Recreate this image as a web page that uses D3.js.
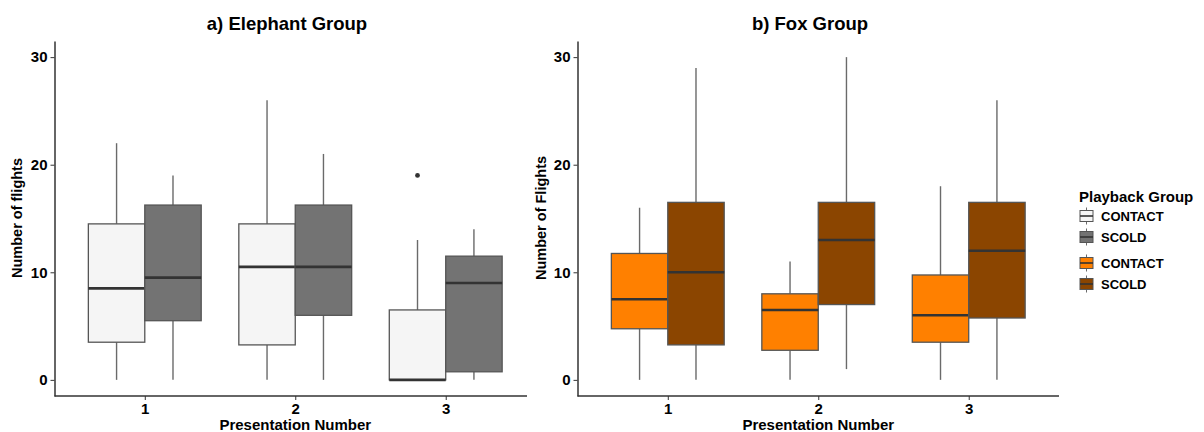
<!DOCTYPE html>
<html>
<head>
<meta charset="utf-8">
<script src="https://cdn.jsdelivr.net/npm/d3@7"></script>
<style>
  body { margin: 0; background: #fff; }
  text { font-family: "Liberation Sans", Arial, Helvetica, sans-serif; font-weight: bold; fill: #000; }
</style>
</head>
<body>
<div class="canvas"></div>
<script>
// data: [lower whisker, q1, median, q3, upper whisker]
const presentations = ['1', '2', '3'];
const playback = ['CONTACT', 'SCOLD'];
const yTicks = [0, 10, 20, 30];

const elephantContact = [[0, 3.5, 8.5, 14.5, 22], [0, 3.25, 10.5, 14.5, 26], [0, 0, 0, 6.5, 13]];
const elephantScold = [[0, 5.5, 9.5, 16.25, 19], [0, 6, 10.5, 16.25, 21], [0, 0.75, 9, 11.5, 14]];
const elephantOutliers = [{ pres: '3', group: 'CONTACT', value: 19 }];

const foxContact = [[0, 4.75, 7.5, 11.75, 16], [0, 2.75, 6.5, 8, 11], [0, 3.5, 6, 9.75, 18]];
const foxScold = [[0, 3.25, 10, 16.5, 29], [1, 7, 13, 16.5, 30], [0, 5.75, 12, 16.5, 26]];
const foxOutliers = [];

const elephantColors = ['#f5f5f5', '#737373'];
const foxColors = ['#ff8000', '#8b4500'];

const svg = d3.select('.canvas').append('svg')
    .attr('width', 1204)
    .attr('height', 432);

const y = d3.scaleLinear().domain([-1.5, 31.5]).range([396, 41]);

function toRows(contact, scold) {
    const rows = [];
    presentations.forEach((p, i) => {
        rows.push({ pres: p, group: 'CONTACT', s: contact[i] });
        rows.push({ pres: p, group: 'SCOLD', s: scold[i] });
    });
    return rows;
}

function drawPanel(opt) {
    const x = d3.scalePoint().domain(presentations).range(opt.xRange).padding(0.6);
    const step = x.step();
    const xg = d3.scaleBand().domain(playback).range([-0.375 * step, 0.375 * step]);
    const color = d3.scaleOrdinal().domain(playback).range(opt.colors);
    const rows = toRows(opt.contact, opt.scold);
    const g = svg.append('g');

    const box = g.selectAll('g.box').data(rows).join('g')
        .attr('class', 'box')
        .attr('transform', d => `translate(${x(d.pres) + xg(d.group) + xg.bandwidth() / 2},0)`);

    // whiskers
    box.append('line')
        .attr('x1', 0).attr('x2', 0)
        .attr('y1', d => y(d.s[0])).attr('y2', d => y(d.s[1]))
        .attr('stroke', '#6a6a6a').attr('stroke-width', 1.4);
    box.append('line')
        .attr('x1', 0).attr('x2', 0)
        .attr('y1', d => y(d.s[3])).attr('y2', d => y(d.s[4]))
        .attr('stroke', '#6a6a6a').attr('stroke-width', 1.4);

    box.append('rect')
        .attr('x', -xg.bandwidth() / 2)
        .attr('width', xg.bandwidth())
        .attr('y', d => y(d.s[3]))
        .attr('height', d => y(d.s[1]) - y(d.s[3]))
        .attr('fill', d => color(d.group))
        .attr('stroke', '#555').attr('stroke-width', 1.3);

    box.append('line')
        .attr('x1', -xg.bandwidth() / 2).attr('x2', xg.bandwidth() / 2)
        .attr('y1', d => y(d.s[2])).attr('y2', d => y(d.s[2]))
        .attr('stroke', '#333').attr('stroke-width', 2.6);

    g.selectAll('circle.out').data(opt.outliers).join('circle')
        .attr('cx', d => x(d.pres) + xg(d.group) + xg.bandwidth() / 2)
        .attr('cy', d => y(d.value))
        .attr('r', 2.4)
        .attr('fill', '#333');

    // axes
    const yAxis = g.append('g')
        .attr('transform', `translate(${opt.xRange[0]},0)`)
        .call(d3.axisLeft(y).tickValues(yTicks).tickSize(4).tickSizeOuter(0).tickPadding(3));
    yAxis.selectAll('text').style('font-size', '15px').attr('fill', '#000');

    const xAxis = g.append('g')
        .attr('transform', `translate(0,${y.range()[0]})`)
        .call(d3.axisBottom(x).tickSize(4).tickSizeOuter(0).tickPadding(3));
    xAxis.select('.domain').attr('d', `M${opt.xRange[0]},0H${opt.axisEnd}`);
    xAxis.selectAll('text').style('font-size', '15px').attr('fill', '#000');

    [yAxis, xAxis].forEach(a => {
        a.select('.domain').attr('stroke', '#333').attr('stroke-width', 1.5);
        a.selectAll('.tick line').attr('stroke', '#333').attr('stroke-width', 1);
        a.selectAll('text').style('font-family', '"Liberation Sans", Arial, sans-serif').style('font-weight', 'bold');
    });

    g.append('text')
        .attr('x', opt.titleX).attr('y', 30)
        .attr('text-anchor', 'middle')
        .style('font-size', '18.5px')
        .text(opt.title);

    g.append('text')
        .attr('x', x('2')).attr('y', 430)
        .attr('text-anchor', 'middle')
        .style('font-size', '15px')
        .text('Presentation Number');

    g.append('text')
        .attr('transform', `translate(${opt.yLabelX},218) rotate(-90)`)
        .attr('text-anchor', 'middle')
        .style('font-size', '14.5px')
        .text(opt.yLabel);
}

drawPanel({
    xRange: [54.5, 536], axisEnd: 527,
    contact: elephantContact, scold: elephantScold, outliers: elephantOutliers,
    colors: elephantColors, title: 'a) Elephant Group', titleX: 287,
    yLabel: 'Number of flights', yLabelX: 22
});

drawPanel({
    xRange: [577.5, 1059], axisEnd: 1059,
    contact: foxContact, scold: foxScold, outliers: foxOutliers,
    colors: foxColors, title: 'b) Fox Group', titleX: 810,
    yLabel: 'Number of Flights', yLabelX: 546
});

// legend
const legend = svg.append('g').attr('transform', 'translate(1079,0)');
legend.append('text')
    .attr('x', 0).attr('y', 202)
    .style('font-size', '15px')
    .text('Playback Group');

const legendItems = [
    { label: playback[0], fill: elephantColors[0], cy: 216 },
    { label: playback[1], fill: elephantColors[1], cy: 237 },
    { label: playback[0], fill: foxColors[0], cy: 263 },
    { label: playback[1], fill: foxColors[1], cy: 284 }
];

const item = legend.selectAll('g.item').data(legendItems).join('g')
    .attr('class', 'item')
    .attr('transform', d => `translate(0,${d.cy})`);

item.append('line')
    .attr('x1', 7.5).attr('x2', 7.5).attr('y1', -8.5).attr('y2', 8.5)
    .attr('stroke', '#6a6a6a').attr('stroke-width', 1);
item.append('rect')
    .attr('x', 1).attr('y', -5.5).attr('width', 13).attr('height', 11)
    .attr('fill', d => d.fill)
    .attr('stroke', '#555').attr('stroke-width', 1);
item.append('line')
    .attr('x1', 1).attr('x2', 14).attr('y1', 0).attr('y2', 0)
    .attr('stroke', '#333').attr('stroke-width', 1.6);
item.append('text')
    .attr('x', 22).attr('y', 4.5)
    .style('font-size', '13px')
    .text(d => d.label);
</script>
</body>
</html>
